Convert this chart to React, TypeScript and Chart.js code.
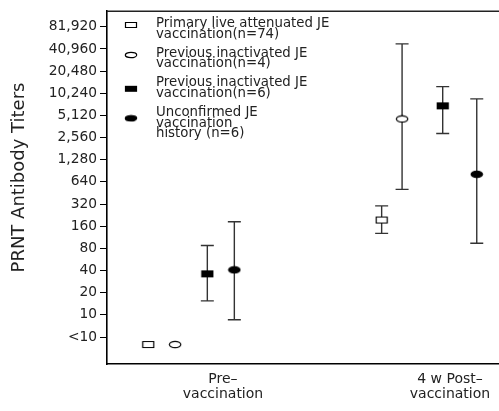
import React, { useEffect, useRef } from "react";
import { Chart, registerables } from "chart.js";

Chart.register(...registerables);

// ---------- data ----------
const categories: string[][] = [["Pre–", "vaccination"], ["4 w Post–", "vaccination"]];
const categoryPositions = [0, 1];

const seriesLabels: string[][] = [
  ["Primary live attenuated JE", "vaccination(n=74)"],
  ["Previous inactivated JE", "vaccination(n=4)"],
  ["Previous inactivated JE", "vaccination(n=6)"],
  ["Unconfirmed JE", "vaccination", "history (n=6)"],
];
const seriesKinds = ["openRect", "openCircle", "filledRect", "filledCircle"];

// horizontal offset of each series from its category centre (pre, post)
const seriesOffsets: number[][] = [
  [-0.329, -0.301],
  [-0.211, -0.211],
  [-0.069, -0.032],
  [0.05, 0.118],
];

// geometric mean titers and 95% CI (pre, post); null = no interval
const gmtLive = [3.95, 194];
const loLive = [null, 128];
const hiLive = [null, 302];

const gmtInact4 = [3.95, 4580];
const loInact4 = [null, 506];
const hiInact4 = [null, 47970];

const gmtInact6 = [36.1, 6906];
const loInact6 = [15.5, 2908];
const hiInact6 = [87.7, 12580];

const gmtUnconf = [40.9, 812];
const loUnconf = [8.6, 94];
const hiUnconf = [184, 8580];

const seriesGmt = [gmtLive, gmtInact4, gmtInact6, gmtUnconf];
const seriesLo = [loLive, loInact4, loInact6, loUnconf];
const seriesHi = [hiLive, hiInact4, hiInact6, hiUnconf];

const yTickValues = [5, 10, 20, 40, 80, 160, 320, 640, 1280, 2560, 5120, 10240, 20480, 40960, 81920];
const yTickLabels = ["<10", "10", "20", "40", "80", "160", "320", "640", "1,280", "2,560", "5,120", "10,240", "20,480", "40,960", "81,920"];
const yTitle = "PRNT Antibody Titers";

const FONT = "'DejaVu Sans', 'Liberation Sans', sans-serif";

function makeMarker(kind: string, w: number, h: number): HTMLCanvasElement {
  const c = document.createElement("canvas");
  c.width = w + 2;
  c.height = h + 2;
  const ctx = c.getContext("2d")!;
  const filled = kind.startsWith("filled");
  ctx.fillStyle = filled ? "#000" : "#fff";
  ctx.strokeStyle = "#000";
  ctx.lineWidth = 1.2;
  ctx.beginPath();
  if (kind.endsWith("Rect")) {
    ctx.rect(1.5, 1.5, w - 1, h - 1);
  } else {
    ctx.ellipse((w + 2) / 2, (h + 2) / 2, w / 2 - 0.3, h / 2 - 0.3, 0, 0, Math.PI * 2);
  }
  ctx.fill();
  ctx.stroke();
  return c;
}

export default function App() {
  const ref = useRef<HTMLCanvasElement | null>(null);

  useEffect(() => {
    document.body.style.margin = "0";
    const canvas = ref.current;
    if (!canvas) return;

    const plotMarkers = seriesKinds.map((k) => makeMarker(k, 12, 7));
    const legendMarkers = seriesKinds.map((k) => makeMarker(k, 12, 6));

    const datasets = seriesLabels.map((lab, si) => ({
      label: lab.join(" "),
      data: categoryPositions.map((c, ci) => ({
        x: c + seriesOffsets[si][ci],
        y: seriesGmt[si][ci],
        lo: seriesLo[si][ci],
        hi: seriesHi[si][ci],
      })),
      pointStyle: plotMarkers[si],
      pointRadius: 6,
      showLine: false,
    }));

    const plugin = {
      id: "errBarsLegend",
      beforeDatasetsDraw(chart: any) {
        const { ctx } = chart;
        const xs = chart.scales.x;
        const ys = chart.scales.y;
        ctx.save();
        ctx.strokeStyle = "#333";
        ctx.lineWidth = 1.4;
        chart.data.datasets.forEach((ds: any) => {
          ds.data.forEach((p: any) => {
            if (p.lo == null || p.hi == null) return;
            const px = xs.getPixelForValue(p.x);
            const yl = ys.getPixelForValue(p.lo);
            const yh = ys.getPixelForValue(p.hi);
            ctx.beginPath();
            ctx.moveTo(px, yl);
            ctx.lineTo(px, yh);
            ctx.moveTo(px - 6.5, yl);
            ctx.lineTo(px + 6.5, yl);
            ctx.moveTo(px - 6.5, yh);
            ctx.lineTo(px + 6.5, yh);
            ctx.stroke();
          });
        });
        ctx.restore();
      },
      afterDraw(chart: any) {
        const { ctx, chartArea } = chart;
        ctx.save();
        // top frame line
        ctx.strokeStyle = "#222";
        ctx.lineWidth = 1.5;
        ctx.beginPath();
        ctx.moveTo(chartArea.left, chartArea.top);
        ctx.lineTo(chartArea.right, chartArea.top);
        ctx.stroke();

        // legend
        const markerY = [25, 55, 88.8, 118.3];
        const firstBaseline = [27.3, 56.7, 86, 116];
        ctx.fillStyle = "#222";
        ctx.font = `13.3px ${FONT}`;
        ctx.textAlign = "left";
        ctx.textBaseline = "alphabetic";
        seriesLabels.forEach((lines, i) => {
          const m = legendMarkers[i];
          ctx.drawImage(m, 131 - m.width / 2, markerY[i] - m.height / 2);
          lines.forEach((t, li) => {
            ctx.fillText(t, 156, firstBaseline[i] + li * 10.6);
          });
        });

        // y title
        ctx.translate(19.7, 177.5);
        ctx.rotate(-Math.PI / 2);
        ctx.font = `18px ${FONT}`;
        ctx.textAlign = "center";
        ctx.textBaseline = "middle";
        ctx.fillStyle = "#222";
        ctx.fillText(yTitle, 0, 0);
        ctx.restore();
      },
    };

    const chart = new Chart(canvas, {
      type: "scatter",
      data: { datasets: datasets as any },
      options: {
        animation: false,
        responsive: false,
        events: [],
        layout: { autoPadding: false, padding: { top: 7, left: 0, right: 0, bottom: 0 } },
        plugins: { legend: { display: false }, tooltip: { enabled: false } },
        scales: {
          x: {
            type: "linear",
            min: -0.511,
            max: 1.216,
            afterBuildTicks: (s: any) => {
              s.ticks = categoryPositions.map((v) => ({ value: v }));
            },
            afterFit: (s: any) => {
              s.height = 47;
            },
            grid: { display: false, drawTicks: false },
            border: { display: true, color: "#000", width: 1.6 },
            ticks: {
              autoSkip: false,
              maxRotation: 0,
              padding: 8,
              color: "#222",
              font: { family: FONT, size: 14, lineHeight: 1.07 },
              callback: (_v: any, i: number) => categories[i],
            },
          },
          y: {
            type: "logarithmic",
            min: 2.15,
            max: 133000,
            afterBuildTicks: (s: any) => {
              s.ticks = yTickValues.map((v) => ({ value: v }));
            },
            afterFit: (s: any) => {
              s.width = 107;
            },
            grid: { drawOnChartArea: false, drawTicks: true, tickLength: 7, color: "#000", lineWidth: 1 },
            border: { display: true, color: "#000", width: 1.6 },
            ticks: {
              autoSkip: false,
              padding: 3,
              color: "#222",
              font: { family: FONT, size: 13.8 },
              callback: (_v: any, i: number) => yTickLabels[i],
            },
          },
        },
      },
      plugins: [plugin],
    });

    return () => chart.destroy();
  }, []);

  return (
    <div style={{ width: 499, height: 411, background: "#fff" }}>
      <canvas ref={ref} width={499} height={411} style={{ display: "block", width: 499, height: 411 }} />
    </div>
  );
}
